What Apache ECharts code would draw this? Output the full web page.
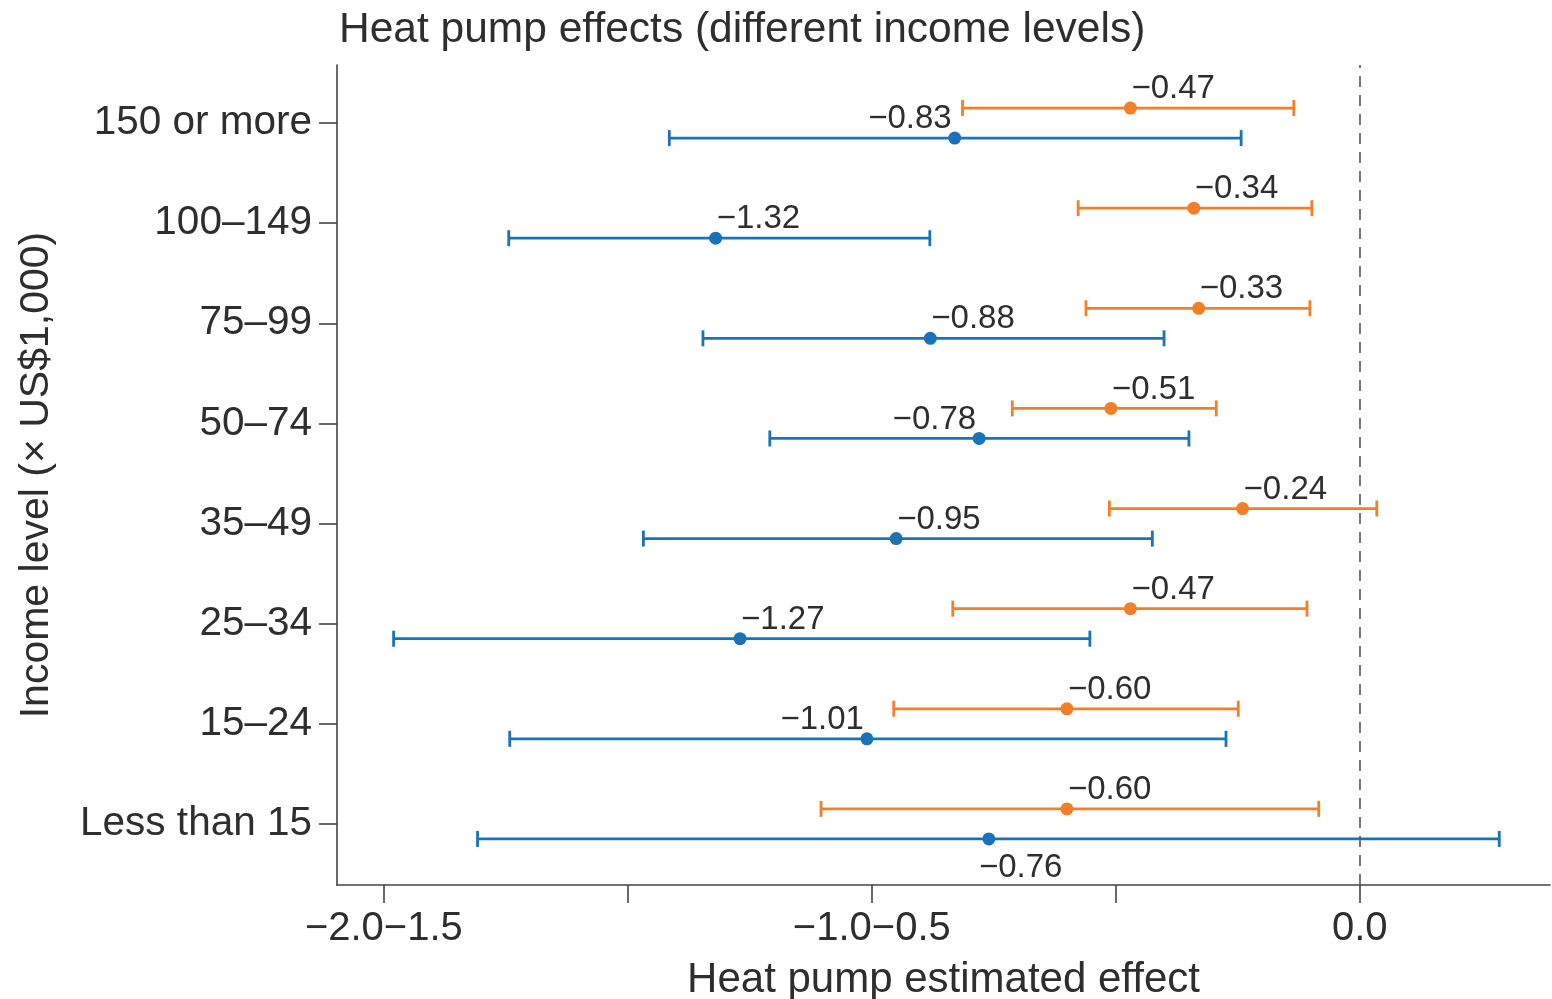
<!DOCTYPE html>
<html>
<head>
<meta charset="utf-8">
<script src="https://cdn.jsdelivr.net/npm/echarts@6/dist/echarts.min.js"></script>
<style>
html,body{margin:0;padding:0;background:#fff;}
#chart{width:1552px;height:999px;}
</style>
</head>
<body>
<div id="chart"></div>
<script>
// Categories listed top to bottom
const categories = ['150 or more', '100–149', '75–99', '50–74', '35–49', '25–34', '15–24', 'Less than 15'];

// Blue series (estimate with 95% interval)
const blueEst  = [-0.83, -1.32, -0.88, -0.78, -0.95, -1.27, -1.01, -0.76];
const blueLow  = [-1.415, -1.744, -1.346, -1.209, -1.468, -1.980, -1.742, -1.808];
const blueHigh = [-0.243, -0.881, -0.401, -0.350, -0.425, -0.553, -0.274, 0.286];

// Orange series (estimate with 95% interval)
const orangeEst  = [-0.47, -0.34, -0.33, -0.51, -0.24, -0.47, -0.60, -0.60];
const orangeLow  = [-0.814, -0.577, -0.561, -0.712, -0.513, -0.834, -0.955, -1.104];
const orangeHigh = [-0.135, -0.098, -0.102, -0.294, 0.035, -0.108, -0.249, -0.084];

// Axis tick labels
const xTickValues = [-2, -1.5, -1, -0.5, 0];
const xLabelValues = [-2, -1, 0];
const xTickLabels = ['−2.0−1.5', '−1.0−0.5', '0.0'];

// Label placement for the blue estimates
const blueLabelSide = ['left', 'right', 'right', 'left', 'right', 'right', 'left', 'below'];

const n = categories.length;
const rowY = categories.map((c, i) => n - 1 - i);
const yTickValues = rowY.slice().reverse();
const OFF = 0.15;

const BLUE = '#1a73b8';
const ORANGE = '#f47f29';
const TXT = '#2e2e2e';
const FONT = '"Liberation Sans", Arial, sans-serif';

function fmt(v) { return '−' + Math.abs(v).toFixed(2); }

function errorBarRender(color) {
  return function (params, api) {
    const lo = api.coord([api.value(0), api.value(2)]);
    const hi = api.coord([api.value(1), api.value(2)]);
    const h = 8;
    const style = { stroke: color, lineWidth: 2.8 };
    return {
      type: 'group',
      children: [
        { type: 'line', shape: { x1: lo[0], y1: lo[1], x2: hi[0], y2: hi[1] }, style: style },
        { type: 'line', shape: { x1: lo[0], y1: lo[1] - h, x2: lo[0], y2: lo[1] + h }, style: style },
        { type: 'line', shape: { x1: hi[0], y1: hi[1] - h, x2: hi[0], y2: hi[1] + h }, style: style }
      ]
    };
  };
}

const blueBars = categories.map((c, i) => [blueLow[i], blueHigh[i], rowY[i] - OFF]);
const orangeBars = categories.map((c, i) => [orangeLow[i], orangeHigh[i], rowY[i] + OFF]);

const labelBase = { show: true, color: TXT, fontSize: 33, fontFamily: FONT, formatter: p => fmt(p.value[0]) };

const blueDots = categories.map((c, i) => {
  const side = blueLabelSide[i];
  let label;
  if (side === 'left') label = { position: 'top', align: 'right', distance: 0, offset: [-3, 4] };
  else if (side === 'below') label = { position: 'bottom', align: 'left', distance: 3, offset: [-10, 3] };
  else label = { position: 'top', align: 'left', distance: 0, offset: [1, 4] };
  return { value: [blueEst[i], rowY[i] - OFF], label: label };
});
const orangeDots = categories.map((c, i) => ({
  value: [orangeEst[i], rowY[i] + OFF],
  label: { position: 'top', align: 'left', distance: 0, offset: [1, 4] }
}));

const chart = echarts.init(document.getElementById('chart'), null, { renderer: 'canvas' });
chart.setOption({
  animation: false,
  backgroundColor: '#fff',
  textStyle: { fontFamily: FONT, color: TXT },
  title: {
    text: 'Heat pump effects (different income levels)',
    left: 334, top: 4,
    textStyle: { fontSize: 42.5, fontWeight: 'normal', color: TXT, fontFamily: FONT }
  },
  grid: { left: 337, right: 2, top: 65, bottom: 114, containLabel: false, outerBoundsMode: 'none' },
  xAxis: {
    type: 'value',
    min: -2.096, max: 0.39,
    name: 'Heat pump estimated effect',
    nameLocation: 'middle',
    nameGap: 74,
    nameTextStyle: { fontSize: 42, color: TXT, fontFamily: FONT },
    axisLine: { show: true, onZero: false, lineStyle: { color: '#444', width: 1.6 } },
    axisTick: { show: true, length: 18, customValues: xTickValues, lineStyle: { color: '#444', width: 1.6 } },
    axisLabel: {
      customValues: xLabelValues,
      margin: 24,
      fontSize: 40, color: TXT, fontFamily: FONT,
      formatter: v => xTickLabels[xLabelValues.indexOf(v)]
    },
    splitLine: { show: false }
  },
  yAxis: {
    type: 'value',
    min: -0.61, max: 7.58,
    name: 'Income level (× US$1,000)',
    nameLocation: 'middle',
    nameGap: 280,
    nameTextStyle: { fontSize: 41, color: TXT, fontFamily: FONT },
    axisLine: { show: true, onZero: false, lineStyle: { color: '#444', width: 1.6 } },
    axisTick: { show: true, length: 18, customValues: yTickValues, lineStyle: { color: '#444', width: 1.6 } },
    axisLabel: {
      customValues: yTickValues,
      margin: 25,
      fontSize: 40.5, color: TXT, fontFamily: FONT,
      formatter: v => categories[n - 1 - Math.round(v)]
    },
    splitLine: { show: false }
  },
  series: [
    {
      type: 'custom', name: 'orangeCI',
      renderItem: errorBarRender(ORANGE),
      encode: { x: [0, 1], y: 2 },
      data: orangeBars, z: 2,
      markLine: {
        silent: true, symbol: 'none', label: { show: false },
        lineStyle: { color: '#555', type: [11, 8], width: 1.6 },
        data: [{ xAxis: 0 }]
      }
    },
    {
      type: 'custom', name: 'blueCI',
      renderItem: errorBarRender(BLUE),
      encode: { x: [0, 1], y: 2 },
      data: blueBars, z: 2
    },
    {
      type: 'scatter', name: 'orange',
      symbolSize: 13,
      itemStyle: { color: ORANGE, opacity: 1 },
      label: labelBase,
      data: orangeDots, z: 3
    },
    {
      type: 'scatter', name: 'blue',
      symbolSize: 13,
      itemStyle: { color: BLUE, opacity: 1 },
      label: labelBase,
      data: blueDots, z: 3
    }
  ]
});
</script>
</body>
</html>
